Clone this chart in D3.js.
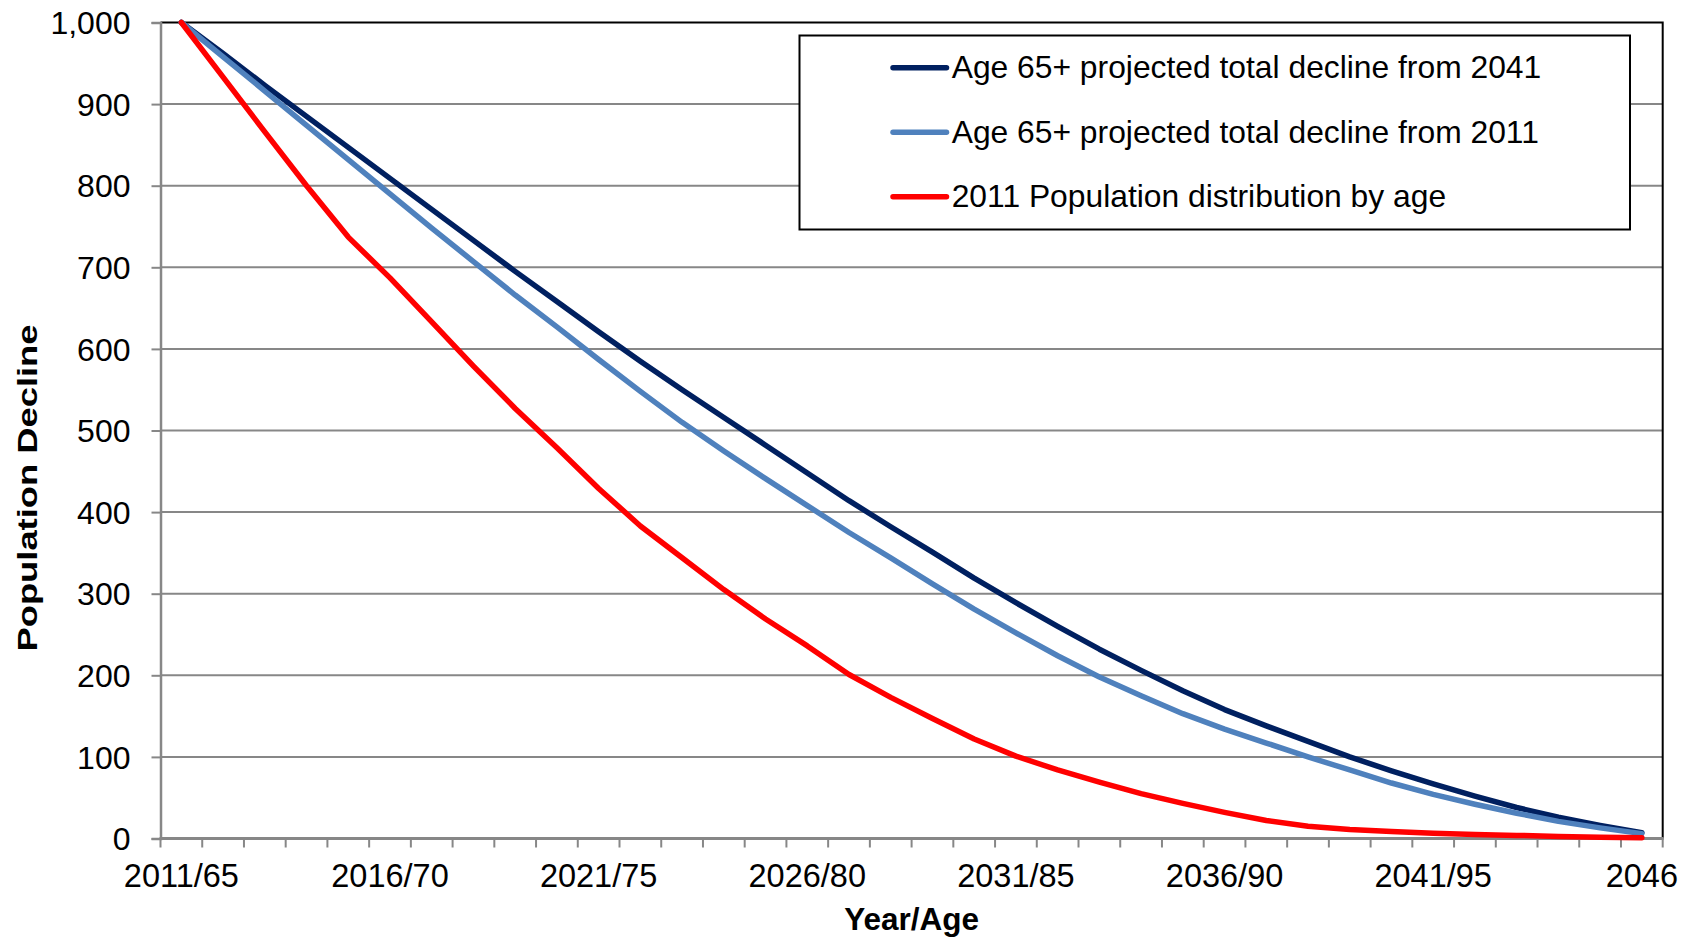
<!DOCTYPE html>
<html>
<head>
<meta charset="utf-8">
<script src="https://cdn.jsdelivr.net/npm/d3@7"></script>
<style>
  html, body { margin: 0; padding: 0; background: #ffffff; }
  svg { display: block; }
  text { font-family: "Liberation Sans", Arial, Helvetica, sans-serif; fill: #000; }
</style>
</head>
<body>
<svg id="chart" width="1692" height="938"></svg>
<script>
// Category axis: one category per projection year (2011 = age 65 ... 2046)
const years = ["2011","2012","2013","2014","2015","2016","2017","2018","2019","2020",
               "2021","2022","2023","2024","2025","2026","2027","2028","2029","2030",
               "2031","2032","2033","2034","2035","2036","2037","2038","2039","2040",
               "2041","2042","2043","2044","2045","2046"];
const tickYears  = ["2011","2016","2021","2026","2031","2036","2041","2046"];
const tickLabels = ["2011/65","2016/70","2021/75","2026/80","2031/85","2036/90","2041/95","2046"];
const yTicks = [0,100,200,300,400,500,600,700,800,900,1000];

// Series values (population remaining out of 1,000)
const declineFrom2041 = [1000,962,923,885,847,809,771,733,695,658,621,585,550,516,482,448,414,382,
                         351,319,289,260,232,206,181,158,138,119,100,83,67,52,38,26,16,7];
const declineFrom2011 = [1000,958,916,874,832,790,748,707,666,627,587,548,510,475,441,408,375,344,
                         312,281,252,224,198,175,153,134,117,100,84,68,54,42,31,21,13,6];
const distribution2011 = [1000,933,866,800,737,687,633,579,527,479,429,383,344,305,269,236,201,173,
                          147,122,101,84,69,55,43,32,22,15,11,8.5,6.5,5,3.8,2.6,1.6,1];

const seriesNames  = ["Age 65+ projected total decline from 2041",
                      "Age 65+ projected total decline from 2011",
                      "2011 Population distribution by age"];
const seriesValues = [declineFrom2041, declineFrom2011, distribution2011];
const seriesColors = ["#002060", "#4f81bd", "#ff0000"];

const svg = d3.select("#chart");
const plot = { left: 160.5, right: 1662.7, top: 22.5, bottom: 838.5 };

const x = d3.scaleBand().domain(years).range([plot.left, plot.right]).paddingInner(0).paddingOuter(0);
const cx = d => x(d) + x.bandwidth() / 2;
const y = d3.scaleLinear().domain([0, 1000]).range([plot.bottom, plot.top]);

const gridColor = "#878787";

// Horizontal gridlines
svg.append("g").selectAll("line")
  .data(yTicks.filter(v => v > 0 && v < 1000))
  .join("line")
  .attr("x1", plot.left).attr("x2", plot.right)
  .attr("y1", d => y(d)).attr("y2", d => y(d))
  .attr("stroke", gridColor).attr("stroke-width", 2);

// Plot-area frame (top and right edges)
svg.append("path")
  .attr("d", `M${plot.left},${y(1000)}H${plot.right}V${plot.bottom}`)
  .attr("fill", "none").attr("stroke", "#000").attr("stroke-width", 2);

// Y axis
const yAxis = svg.append("g")
  .attr("transform", `translate(${plot.left},0)`)
  .call(d3.axisLeft(y).tickValues(yTicks).tickSize(9).tickPadding(21).tickFormat(d3.format(",")));
yAxis.select(".domain").attr("stroke", gridColor).attr("stroke-width", 2.5);
yAxis.selectAll(".tick line").attr("stroke", gridColor).attr("stroke-width", 2);
yAxis.selectAll(".tick text").attr("font-size", 32).attr("dy", "0.35em").attr("fill", "#000");

// X axis: tick marks on category boundaries, labels every fifth category
const boundaries = years.map(d => x(d)).concat([plot.right]);
svg.append("g").selectAll("line")
  .data(boundaries)
  .join("line")
  .attr("x1", d => d).attr("x2", d => d)
  .attr("y1", plot.bottom).attr("y2", plot.bottom + 9)
  .attr("stroke", gridColor).attr("stroke-width", 2);

svg.append("line")
  .attr("x1", plot.left - 1).attr("x2", plot.right + 1)
  .attr("y1", plot.bottom).attr("y2", plot.bottom)
  .attr("stroke", gridColor).attr("stroke-width", 3);

svg.append("g").selectAll("text")
  .data(tickYears)
  .join("text")
  .attr("x", d => cx(d))
  .attr("y", plot.bottom + 48.2)
  .attr("text-anchor", "middle")
  .attr("font-size", 32.5)
  .text((d, i) => tickLabels[i]);

// Axis titles
svg.append("text")
  .attr("x", (plot.left + plot.right) / 2)
  .attr("y", 930)
  .attr("text-anchor", "middle")
  .attr("font-size", 31.5)
  .attr("font-weight", "bold")
  .text("Year/Age");

svg.append("text")
  .attr("transform", "translate(36.5,488) rotate(-90)")
  .attr("text-anchor", "middle")
  .attr("font-size", 27.5)
  .attr("font-weight", "bold")
  .attr("textLength", 327)
  .attr("lengthAdjust", "spacingAndGlyphs")
  .text("Population Decline");

// Series lines
const line = d3.line()
  .x((d, i) => cx(years[i]))
  .y(d => y(d))
  .curve(d3.curveLinear);

svg.append("g").selectAll("path")
  .data(seriesValues)
  .join("path")
  .attr("d", d => line(d))
  .attr("fill", "none")
  .attr("stroke", (d, i) => seriesColors[i])
  .attr("stroke-width", 5.5)
  .attr("stroke-linejoin", "round")
  .attr("stroke-linecap", "round");

// Legend
const legend = svg.append("g");
legend.append("rect")
  .attr("x", 799.5).attr("y", 35.5)
  .attr("width", 830.5).attr("height", 194)
  .attr("fill", "#fff").attr("stroke", "#000").attr("stroke-width", 2);

const items = legend.selectAll("g.item")
  .data(seriesNames)
  .join("g")
  .attr("class", "item")
  .attr("transform", (d, i) => `translate(0,${67.7 + i * 64.5})`);

items.append("line")
  .attr("x1", 893).attr("x2", 946.5)
  .attr("y1", 0).attr("y2", 0)
  .attr("stroke", (d, i) => seriesColors[i])
  .attr("stroke-width", 5.5)
  .attr("stroke-linecap", "round");

items.append("text")
  .attr("x", 951.7)
  .attr("y", 10.5)
  .attr("font-size", 31.8)
  .text(d => d);
</script>
</body>
</html>
